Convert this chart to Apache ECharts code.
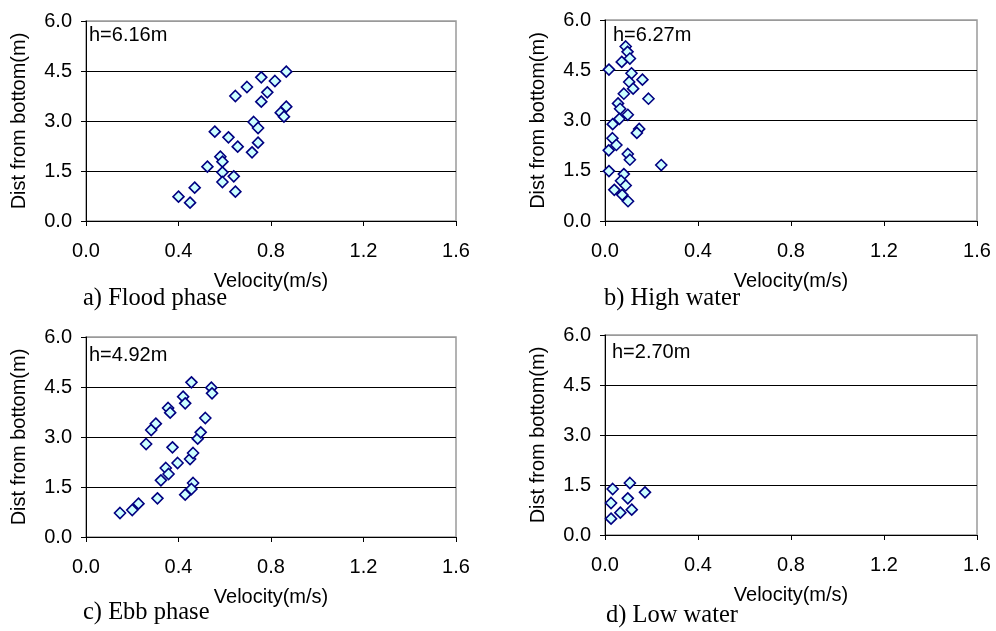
<!DOCTYPE html>
<html>
<head>
<meta charset="utf-8">
<script src="https://cdn.jsdelivr.net/npm/echarts@6/dist/echarts.min.js"></script>
<style>
html,body{margin:0;padding:0;background:#fff;}
#chart{width:996px;height:631px;}
</style>
</head>
<body>
<div id="chart"></div>
<script>
// ---- Data ----
const xTickLabels = ['0.0','0.4','0.8','1.2','1.6'];
const yTickLabels = ['0.0','1.5','3.0','4.5','6.0'];
const panelCaptions = ['a) Flood phase','b) High water','c) Ebb phase','d) Low water'];
const depthLabels = ['h=6.16m','h=6.27m','h=4.92m','h=2.70m'];

// a) Flood phase
const floodVel = [0.40,0.45,0.47,0.525,0.557,0.581,0.59,0.59,0.59,0.616,0.639,0.646,0.646,0.656,0.696,0.718,0.725,0.744,0.744,0.758,0.758,0.784,0.817,0.842,0.856,0.866,0.866];
const floodDist = [0.73,0.55,1.00,1.63,2.68,1.93,1.78,1.46,1.17,2.51,1.34,0.88,3.75,2.23,4.02,2.06,2.97,2.79,2.35,4.31,3.58,3.86,4.20,3.25,3.13,3.43,4.48];

// b) High water
const highVel = [0.089,0.097,0.072,0.107,0.017,0.114,0.161,0.104,0.121,0.081,0.187,0.056,0.065,0.098,0.062,0.033,0.147,0.137,0.032,0.049,0.016,0.098,0.107,0.242,0.017,0.081,0.069,0.089,0.040,0.074,0.099];
const highDist = [5.21,5.05,4.75,4.85,4.52,4.41,4.22,4.15,3.95,3.80,3.65,3.51,3.35,3.17,3.05,2.89,2.75,2.63,2.47,2.27,2.11,2.00,1.83,1.67,1.49,1.40,1.20,1.06,0.93,0.78,0.59];

// c) Ebb phase
const ebbVel = [0.147,0.200,0.227,0.309,0.324,0.345,0.357,0.396,0.260,0.282,0.302,0.355,0.364,0.374,0.420,0.429,0.456,0.450,0.463,0.463,0.456,0.429,0.483,0.496,0.516,0.542,0.545];
const ebbDist = [0.72,0.81,1.00,1.16,1.70,2.07,1.89,2.22,2.79,3.21,3.40,3.87,3.73,2.69,4.21,4.01,4.64,2.34,2.52,1.62,1.44,1.27,2.95,3.14,3.57,4.48,4.31];

// d) Low water
const lowVel = [0.033,0.107,0.172,0.026,0.098,0.115,0.066,0.026];
const lowDist = [1.38,1.56,1.28,0.96,1.10,0.76,0.67,0.49];

const velocities = [floodVel, highVel, ebbVel, lowVel];
const distances = [floodDist, highDist, ebbDist, lowDist];

// ---- Layout ----
const grids = [
  {left:86, top:21, width:370, height:200},
  {left:605, top:20, width:372, height:201},
  {left:86, top:337, width:370, height:200},
  {left:605, top:335, width:372, height:200}
];
const captionPos = [[83,299],[604,299],[83,613],[606,616]];
const hPos = [[89,35],[613,35],[89,355],[612,352]];

const sansFont = '"Liberation Sans", Arial, sans-serif';
const serifFont = '"Liberation Serif", "Times New Roman", serif';
const fs = 20;

const chart = echarts.init(document.getElementById('chart'), null, {renderer:'canvas'});

const option = {
  backgroundColor:'#ffffff',
  animation:false,
  grid: grids.map(g => Object.assign({show:true, borderColor:'#9a9a9a', borderWidth:1.5, backgroundColor:'transparent'}, g)),
  xAxis: grids.map((g,i) => ({
    gridIndex:i, type:'value', min:0, max:1.6, interval:0.4,
    name:'Velocity(m/s)', nameLocation:'middle', nameGap: 50,
    nameTextStyle:{fontFamily:sansFont, fontSize:fs, color:'#000'},
    axisLine:{show:true, onZero:false, lineStyle:{color:'#000', width:1}},
    axisTick:{show:true, inside:false, length:5, lineStyle:{color:'#000'}},
    axisLabel:{margin:20, fontFamily:sansFont, fontSize:fs, color:'#000',
      formatter:(v)=>{const k=Math.round(v/0.4); return xTickLabels[k] !== undefined ? xTickLabels[k] : v.toFixed(1);}},
    splitLine:{show:false}
  })),
  yAxis: grids.map((g,i) => ({
    gridIndex:i, type:'value', min:0, max:6, interval:1.5,
    name:'Dist from bottom(m)', nameLocation:'middle', nameGap: 57, nameRotate:90,
    nameTextStyle:{fontFamily:sansFont, fontSize:fs, color:'#000'},
    axisLine:{show:true, onZero:false, lineStyle:{color:'#000', width:1}},
    axisTick:{show:true, inside:false, length:5, lineStyle:{color:'#000'}},
    axisLabel:{margin:14, fontFamily:sansFont, fontSize:fs, color:'#000',
      formatter:(v)=>{const k=Math.round(v/1.5); return yTickLabels[k] !== undefined ? yTickLabels[k] : v.toFixed(1);}},
    splitLine:{show:true, lineStyle:{color:['#000','#000','#000','#000','#9a9a9a'], width:1}}
  })),
  series: velocities.map((vel,i) => ({
    type:'scatter', xAxisIndex:i, yAxisIndex:i,
    symbol:'diamond', symbolSize:[11,11],
    itemStyle:{color:'#ccffff', borderColor:'#000080', borderWidth:1.6, opacity:1},
    data: vel.map((v,j) => [v, distances[i][j]]),
    z:5
  })),
  graphic: [
    ...panelCaptions.map((t,i) => ({
      type:'text', left:captionPos[i][0], top:captionPos[i][1]-13,
      style:{text:t, fontFamily:serifFont, fontSize:24.5, fill:'#000'}
    })),
    ...depthLabels.map((t,i) => ({
      type:'text', left:hPos[i][0], top:hPos[i][1]-10,
      style:{text:t, fontFamily:sansFont, fontSize:fs, fill:'#000'}
    }))
  ]
};
chart.setOption(option);
</script>
</body>
</html>
